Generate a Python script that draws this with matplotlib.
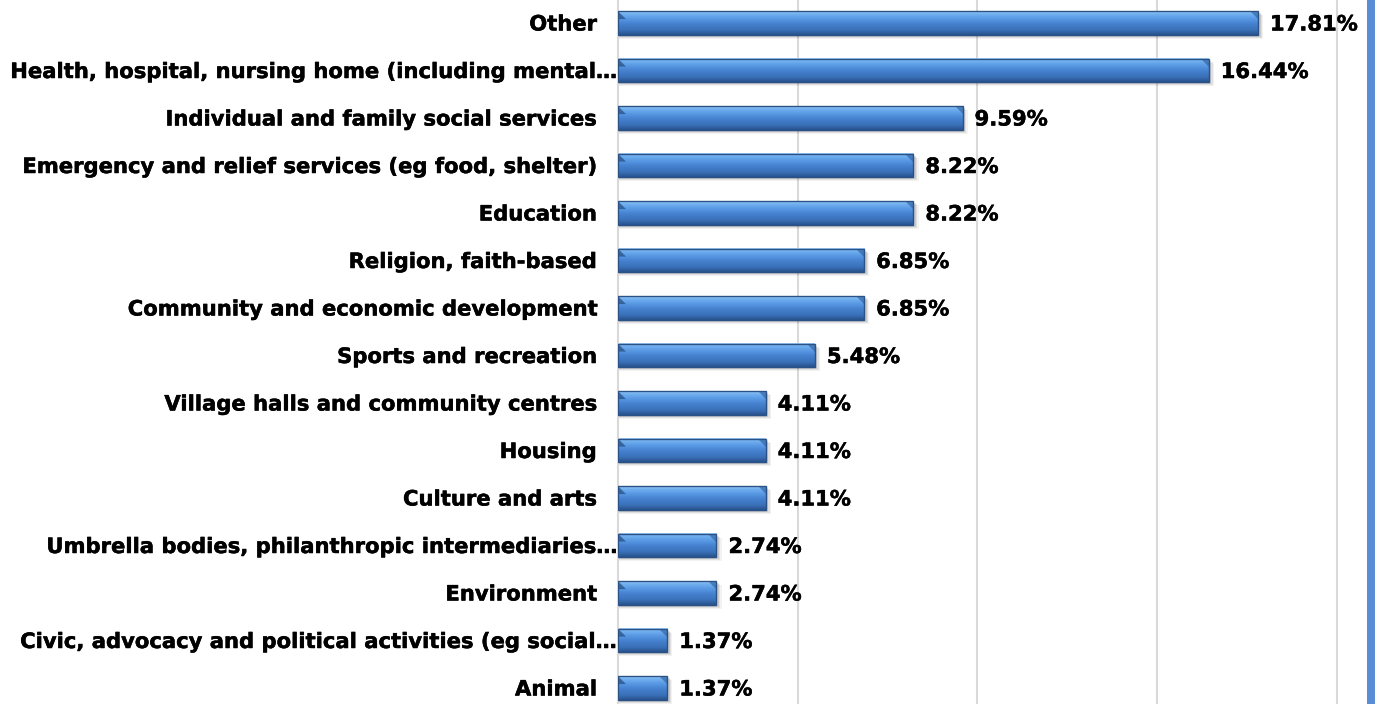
import numpy as np
import matplotlib.pyplot as plt
import matplotlib.patheffects as pe
from matplotlib.colors import LinearSegmentedColormap
from matplotlib.patches import Polygon, Rectangle

# categories, top to bottom
categories = [
    "Other",
    "Health, hospital, nursing home (including mental\u2026",
    "Individual and family social services",
    "Emergency and relief services (eg food, shelter)",
    "Education",
    "Religion, faith-based",
    "Community and economic development",
    "Sports and recreation",
    "Village halls and community centres",
    "Housing",
    "Culture and arts",
    "Umbrella bodies, philanthropic intermediaries\u2026",
    "Environment",
    "Civic, advocacy and political activities (eg social\u2026",
    "Animal",
]
shares = [17.81, 16.44, 9.59, 8.22, 8.22, 6.85, 6.85, 5.48,
          4.11, 4.11, 4.11, 2.74, 2.74, 1.37, 1.37]
value_labels = ["17.81%", "16.44%", "9.59%", "8.22%", "8.22%", "6.85%", "6.85%",
                "5.48%", "4.11%", "4.11%", "4.11%", "2.74%", "2.74%", "1.37%", "1.37%"]
grid_ticks = [5, 10, 15, 20]

W, H = 1381, 704
fig = plt.figure(figsize=(W / 100, H / 100), dpi=100)
ax_left = 618 / W
ax = fig.add_axes([ax_left, 0, 1 - ax_left, 1])

px_x = 35.93          # pixels per percent
px_y = 47.5           # pixels per category
xmax = (W - 618) / px_x
ax.set_xlim(0, xmax)
ax.set_ylim(14 + 16 / px_y, -23 / px_y)

# gridlines
for g in grid_ticks:
    ax.axvline(g, color="#d9d9d9", lw=1.5, zorder=0)
for s in ["top", "right", "bottom"]:
    ax.spines[s].set_visible(False)
ax.spines["left"].set_color("#d9d9d9")
ax.spines["left"].set_linewidth(1.5)
ax.set_xticks([])
ax.set_yticks([])

face = LinearSegmentedColormap.from_list("face", [
    (0.00, "#a2d0fb"),
    (0.10, "#74b2f0"),
    (0.30, "#5a9be6"),
    (0.50, "#4784d2"),
    (0.80, "#3a70b8"),
    (1.00, "#28528c"),
])
grad = np.linspace(0, 1, 64).reshape(-1, 1)

bold = dict(fontsize=15.2, fontweight="bold", color="#000000",
            path_effects=[pe.withStroke(linewidth=0.35, foreground="#000000")])
ty = 1.5 / px_y   # nudge text down a touch

h = 0.5
cx = 8 / px_x
cy = 8 / px_y
for i, v in enumerate(shares):
    yt, yb = i - h / 2, i + h / 2
    # soft drop shadow
    for k, a in enumerate([0.10, 0.07, 0.05]):
        off_x = (2 + k) / px_x
        off_y = (2 + k) / px_y
        ax.add_patch(Rectangle((off_x * 0.3, yt + off_y), v + off_x, h,
                               color="#000000", alpha=a, lw=0, zorder=1))
    ax.imshow(grad, cmap=face, aspect="auto", origin="upper",
              extent=(0, v, yb, yt), zorder=2, interpolation="bilinear")
    # chamfered corners
    ax.add_patch(Polygon([(v - cx, yt), (v, yt), (v, yt + cy)],
                         closed=True, color="#2c5a99", alpha=0.6, lw=0, zorder=3))
    ax.add_patch(Polygon([(0, yt), (cx, yt + cy), (0, yt + cy)],
                         closed=True, color="#1d3c6b", alpha=0.6, lw=0, zorder=3))
    ax.add_patch(Rectangle((0, yt), v, h, fill=False, ec="#2b5287", lw=1.0, zorder=4))
    ax.text(v + 12 / px_x, i + ty, value_labels[i], ha="left", va="center", zorder=5, **bold)

# category labels
for i, c in enumerate(categories):
    gap = 1 if c.endswith("\u2026") else 21
    ax.text(-gap / px_x, i + ty, c, ha="right", va="center", clip_on=False, **bold)

# blue frame strip on the right
fig.patches.append(Rectangle((1367 / W, 0), 8 / W, 1, transform=fig.transFigure,
                             color="#5b8dd6", lw=0, zorder=10))

fig.savefig("out.png", dpi=100)
